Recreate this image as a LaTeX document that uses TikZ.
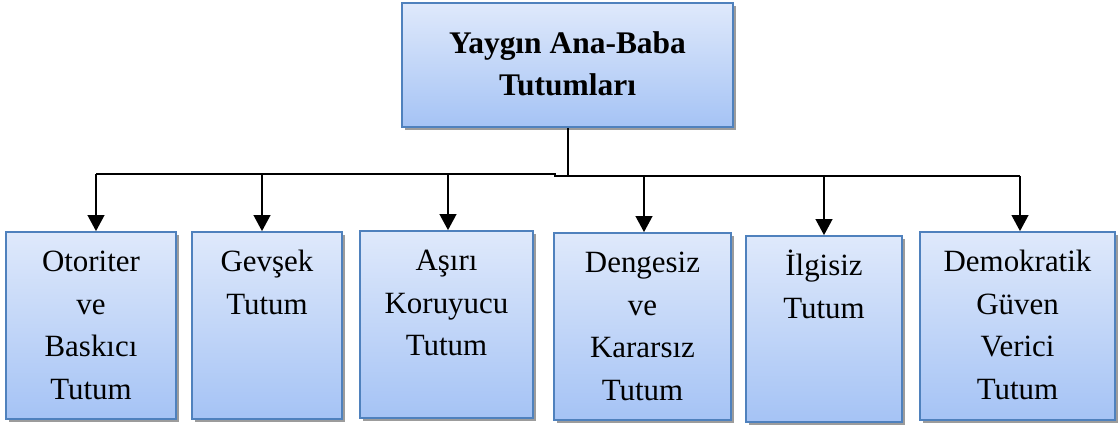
\documentclass[tikz,border=0pt]{standalone}
\usepackage{fontspec}
\setmainfont{Liberation Serif}
\usetikzlibrary{arrows.meta,shadows}

\definecolor{boxtop}{HTML}{DFE9FB}
\definecolor{boxbot}{HTML}{A5C3F5}
\definecolor{boxline}{HTML}{4F81BD}
\definecolor{shadowgray}{HTML}{9C9C9C}

\tikzset{
  cardbox/.style={rectangle, draw=boxline, line width=1.3pt,
    top color=boxtop, bottom color=boxbot,
    drop shadow={shadow xshift=2.3pt, shadow yshift=-2.3pt, fill=shadowgray, opacity=1},
    inner sep=0pt},
  cardtext/.style={anchor=north, align=center, inner sep=0pt,
    font=\fontsize{23.2pt}{32pt}\selectfont},
  headtext/.style={align=center, inner sep=0pt,
    font=\fontsize{23.6pt}{31.5pt}\selectfont\bfseries},
  conn/.style={line width=1.5pt, black},
  arr/.style={conn, -{Triangle[length=12pt,width=12.5pt]}}
}

\begin{document}
\begin{tikzpicture}[x=0.75pt,y=-0.75pt]
\useasboundingbox (0,0) rectangle (1119,427);

% heading box
\node[cardbox, minimum width=248.25pt, minimum height=93pt] (top) at (567.5,65) {};
\node[headtext] (toptxt) at (567.5,64) {Yaygın Ana-Baba\\Tutumları};

% category boxes
\node[cardbox, minimum width=127.5pt,  minimum height=140.25pt] (b1) at (91,325.5) {};
\node[cardbox, minimum width=112.5pt,  minimum height=140.25pt] (b2) at (267,325.5) {};
\node[cardbox, minimum width=129.75pt, minimum height=140.25pt] (b3) at (446.5,324.5) {};
\node[cardbox, minimum width=132.75pt, minimum height=140.25pt] (b4) at (642.5,326.5) {};
\node[cardbox, minimum width=117pt,    minimum height=139.5pt]  (b5) at (824,329) {};
\node[cardbox, minimum width=146.25pt, minimum height=141pt]    (b6) at (1017.5,326) {};

% category labels
\node[cardtext] (t1) at ([yshift=-7.6pt]b1.north) {\strut Otoriter\\ve\\Baskıcı\\Tutum};
\node[cardtext] (t2) at ([yshift=-7.6pt]b2.north) {\strut Gevşek\\Tutum};
\node[cardtext] (t3) at ([yshift=-7.6pt]b3.north) {\strut Aşırı\\Koruyucu\\Tutum};
\node[cardtext] (t4) at ([yshift=-7.6pt]b4.north) {\strut Dengesiz\\ve\\Kararsız\\Tutum};
\node[cardtext] (t5) at ([yshift=-7.6pt]b5.north) {\strut İlgisiz\\Tutum};
\node[cardtext] (t6) at ([yshift=-7.6pt]b6.north) {\strut Demokratik\\Güven\\Verici\\Tutum};

% bus coordinates
\coordinate (a1) at (96,174);
\coordinate (am) at (555,174);
\coordinate (an) at (555,176);
\coordinate (a2) at (262,174);
\coordinate (a3) at (448,174);
\coordinate (a4) at (644,176);
\coordinate (a5) at (824,176);
\coordinate (a6) at (1020,176);

% connectors
\draw[conn] (top.south) -- (top.south |- an);
\draw[conn] (a1) -- (am) -- (an) -- (a6);
\draw[arr] (a1) -- (a1 |- b1.north);
\draw[arr] (a2) -- (a2 |- b2.north);
\draw[arr] (a3) -- (a3 |- b3.north);
\draw[arr] (a4) -- (a4 |- b4.north);
\draw[arr] (a5) -- (a5 |- b5.north);
\draw[arr] (a6) -- (a6 |- b6.north);
\end{tikzpicture}
\end{document}
